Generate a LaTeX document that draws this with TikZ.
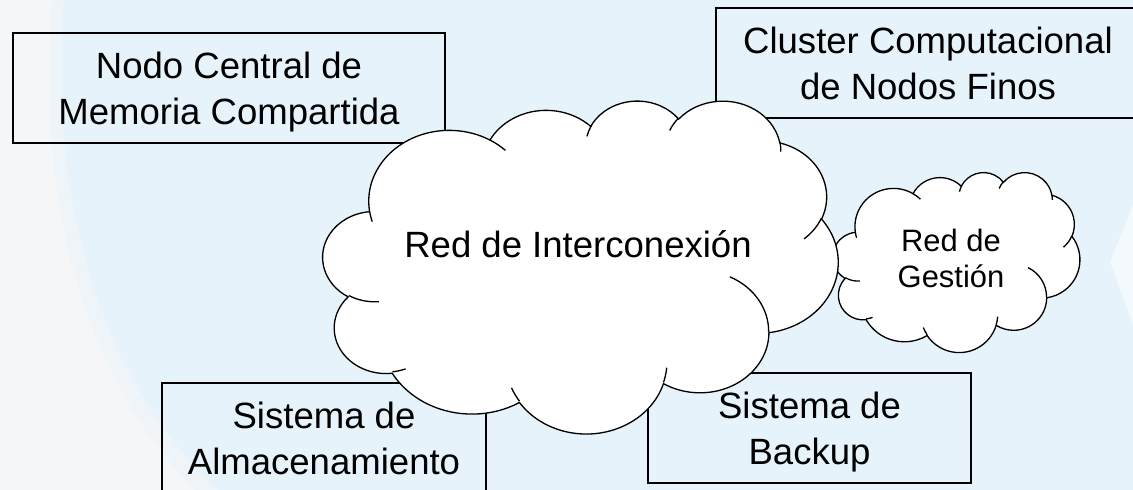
\documentclass[tikz,border=0pt]{standalone}
\usepackage{fontspec}
\setmainfont{Liberation Sans}

\definecolor{bgblue}{HTML}{E7F3FA}
\definecolor{bgmid}{HTML}{EEF4F8}
\definecolor{bgpale}{HTML}{F5F6F7}

% one lobe of the cloud: x radius, y radius, start angle, sweep (angles as seen)
\newcommand{\puff}[4]{arc[x radius=#1, y radius=#2,
    start angle={atan2(#1*sin(#3),#2*cos(#3))},
    delta angle={mod(atan2(#1*sin(#3+#4),#2*cos(#3+#4))-atan2(#1*sin(#3),#2*cos(#3))+720,360)}]}

\begin{document}
\begin{tikzpicture}[x=0.02cm,y=-0.02cm,
    box/.style={draw,line width=0.75pt,minimum width=#1,minimum height=2.2cm,
        align=center,text depth=0pt,font=\fontsize{20.8}{26.2}\selectfont},
    cloudline/.style={draw,line width=0.75pt,fill=white},
    hookline/.style={draw,line width=0.75pt}]

    \def\cloudshape{(39,143.7) \puff{67.53}{91.90}{-190.4875}{123.7805}
        \puff{53.33}{72.67}{-144.1024}{89.9452}
        \puff{43.65}{59.45}{-145.8079}{99.7230}
        \puff{48.57}{65.95}{-130.9861}{117.2417}
        \puff{53.33}{72.73}{-78.7089}{109.0269}
        \puff{67.75}{92.20}{-46.2673}{130.2690}
        \puff{57.85}{78.67}{0.6250}{114.0333}
        \puff{67.52}{92.15}{22.4516}{115.1726}
        \puff{77.20}{105.43}{66.2426}{75.7110}
        \puff{43.60}{59.18}{-274.9421}{146.7356}
        \puff{43.45}{59.45}{-246.8285}{152.5189} -- cycle}

    \def\cloudhooks{(46.93,261.77) \puff{43.45}{59.45}{86.7420}{26.4295}
        (69.28,348.99) \puff{43.60}{59.18}{73.6105}{11.4475}
        (164.78,390.90) \puff{67.52}{92.15}{137.6242}{14.0811}
        (288.27,347.51) \puff{67.52}{92.15}{6.4533}{15.9984}
        (341.29,229.54) \puff{57.85}{78.67}{-70.2924}{70.9174}
        (417.98,153.54) \puff{53.33}{72.73}{30.3180}{27.7515}
        (383.24,54.26) \puff{48.57}{65.95}{-13.7443}{14.8589}
        (290.78,39.52) \puff{48.57}{65.95}{-149.1815}{18.1954}
        (221.41,47.20) \puff{43.65}{59.45}{-163.4943}{17.6864}
        (140.00,51.92) \puff{67.53}{91.90}{-66.7070}{12.3194}
        (41.27,157.89) \puff{67.53}{91.90}{157.6544}{11.8582}}

    \useasboundingbox (0,0) rectangle (1133,490);

    %background:
    \fill[bgblue] (0,0) rectangle (1133,490);
    \fill[bgmid] (0,0) -- (64,0) .. controls (48,200) and (100,380) .. (218,490) -- (0,490) -- cycle;
    \fill[bgpale] (0,0) -- (52,0) .. controls (36,200) and (84,380) .. (196,490) -- (0,490) -- cycle;
    \fill[white,opacity=.5] (1133,205) -- (1110,262) -- (1133,325) -- cycle;

    %boxes:
    \node[box=8.64cm] (memoria) at (229,88) {Nodo Central de\\Memoria Compartida};
    \node[box=8.48cm] (cluster) at (928,63) {Cluster Computacional\\de Nodos Finos};
    \node[box=6.48cm] (almacen) at (324,438) {Sistema de\\Almacenamiento};
    \node[box=6.46cm] (backup) at (809.5,428) {Sistema de\\Backup};

    %small cloud:
    \begin{scope}[shift={(833,172)},x=0.011435cm,y=-0.008333cm]
        \path[cloudline] \cloudshape;
        \path[hookline] \cloudhooks;
    \end{scope}

    %big cloud:
    \begin{scope}[shift={(323,100)},x=0.023843cm,y=-0.015417cm]
        \path[cloudline] \cloudshape;
        \path[hookline] \cloudhooks;
    \end{scope}

    \node[anchor=base,font=\fontsize{20.8}{26.2}\selectfont] (redint) at (578,257) {Red de Interconexión};
    \node[align=center,text depth=0pt,font=\fontsize{17.6}{20.5}\selectfont] (redges) at (951,258.7) {Red de\\Gestión};

\end{tikzpicture}
\end{document}
